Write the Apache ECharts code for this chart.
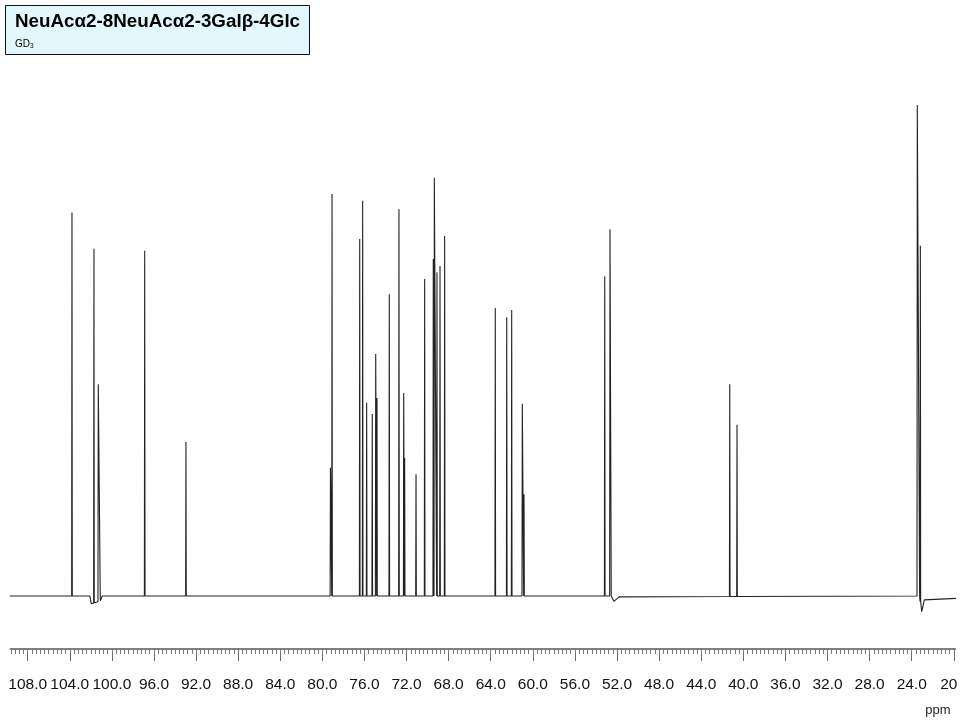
<!DOCTYPE html>
<html>
<head>
<meta charset="utf-8">
<title>GD3 13C NMR</title>
<script src="https://cdn.jsdelivr.net/npm/echarts@6.0.0/dist/echarts.min.js"></script>
<style>
  html, body { margin: 0; padding: 0; background: #fff; }
  #container { width: 960px; height: 720px; }
</style>
</head>
<body>
<div id="container"></div>
<script>
// peaks (ppm, relative height; tallest = 100)
var peakPpm = [103.79, 101.70, 101.29, 96.88, 92.96,
  79.23, 79.08, 76.45, 76.17, 75.79, 75.26, 74.93, 74.81, 73.64,
  72.72, 72.27, 72.18, 71.10, 70.28, 69.46, 69.36, 69.11, 68.82, 68.38,
  63.57, 62.48, 62.01, 61.00, 60.84,
  53.17, 52.67, 41.29, 40.60, 23.47, 23.18];
var peakHeight = [78.0, 70.6, 42.9, 70.2, 31.1,
  25.8, 81.8, 72.6, 80.4, 39.1, 36.8, 49.1, 40.1, 61.3,
  78.7, 41.1, 27.8, 24.5, 64.4, 68.5, 85.1, 65.8, 67.1, 73.2,
  58.5, 56.6, 58.1, 38.9, 20.4,
  65.0, 74.6, 42.9, 34.6, 100, 71.2];

// baseline level and its dips
var baselinePpm   = [109.7, 102.1, 101.95, 101.1, 100.9, 52.55, 52.3, 51.8, 23.25, 23.05, 22.8, 19.8];
var baselineValue = [-0.4, -0.4, -2.0, -1.4, -0.4, -0.4, -1.5, -0.6, -0.4, -3.6, -1.2, -0.9];

// axis labels
var labelTicks = [108, 104, 100, 96, 92, 88, 84, 80, 76, 72, 68, 64, 60, 56, 52, 48, 44, 40, 36, 32, 28, 24, 20];
var minorTicks = [];
for (var t = 1096; t >= 200; t -= 4) minorTicks.push(t / 10);

// baseline level under a given shift, from the baseline arrays
function baseAt(p) {
  for (var i = 0; i < baselinePpm.length - 1; i++) {
    var a = baselinePpm[i], b = baselinePpm[i + 1];
    if (p <= a && p >= b) {
      var f = (a - p) / (a - b);
      return baselineValue[i] + f * (baselineValue[i + 1] - baselineValue[i]);
    }
  }
  return 0;
}

function buildTrace() {
  var pts = [];
  for (var i = 0; i < baselinePpm.length; i++) pts.push([baselinePpm[i], baselineValue[i]]);
  for (var j = 0; j < peakPpm.length; j++) {
    var b = baseAt(peakPpm[j]);
    pts.push([peakPpm[j] - 0.03, b]);
    pts.push([peakPpm[j], peakHeight[j]]);
    pts.push([peakPpm[j] + 0.03, b]);
  }
  pts.sort(function (a, b) { return a[0] - b[0]; });
  return pts;
}

var myChart = echarts.init(document.getElementById('container'));
var xMin = 19.85, xMax = 109.65;
var labelFont = "'Liberation Sans', Arial, sans-serif";
var option = {
  backgroundColor: '#fff',
  animation: false,
  grid: { left: 10.3, right: 4.6, top: 105, bottom: 71, containLabel: false, outerBoundsMode: 'none' },
  xAxis: [{
    type: 'value', inverse: true, min: xMin, max: xMax, position: 'bottom',
    axisLine: { show: true, onZero: false, lineStyle: { color: '#555', width: 1.5 } },
    axisTick: { show: true, length: 12, customValues: labelTicks, lineStyle: { color: '#666', width: 1 } },
    axisLabel: {
      customValues: labelTicks, margin: 28, color: '#111', fontSize: 15.5,
      fontFamily: labelFont, hideOverlap: false,
      formatter: function (v) { return v === 20 ? '{r|20}' : v.toFixed(1); },
      rich: { r: { fontSize: 15.5, fontFamily: labelFont, color: '#111', padding: [0, 10, 0, 0] } }
    },
    splitLine: { show: false }
  }, {
    type: 'value', inverse: true, min: xMin, max: xMax, position: 'bottom',
    axisLine: { show: false, onZero: false },
    axisTick: { show: true, length: 5, customValues: minorTicks, lineStyle: { color: '#777', width: 1 } },
    axisLabel: { show: false },
    splitLine: { show: false }
  }],
  yAxis: { type: 'value', min: -11.25, max: 100, show: false, splitLine: { show: false } },
  series: [{
    type: 'line', xAxisIndex: 0, data: buildTrace(), showSymbol: false, silent: true,
    lineStyle: { color: '#222', width: 1.1 }
  }],
  graphic: [
    { type: 'rect', shape: { x: 5.5, y: 5.5, width: 304, height: 49 }, style: { fill: '#e3f8fc', stroke: '#111', lineWidth: 1 } },
    { type: 'text', x: 15, y: 22, style: { text: 'NeuAcα2-8NeuAcα2-3Galβ-4Glc', font: "bold 18.8px 'Liberation Sans', Arial, sans-serif", fill: '#000', verticalAlign: 'middle' } },
    { type: 'text', x: 15, y: 44, style: {
        text: '{a|GD}{b|3}', verticalAlign: 'middle',
        rich: {
          a: { fontSize: 10, fontFamily: labelFont, fill: '#000' },
          b: { fontSize: 6.5, fontFamily: labelFont, fill: '#000', verticalAlign: 'bottom', padding: [4, 0, 0, 0] }
        } } },
    { type: 'text', x: 938, y: 710, style: { text: 'ppm', font: "13px 'Liberation Sans', Arial, sans-serif", fill: '#222', align: 'center', verticalAlign: 'middle' } }
  ]
};
myChart.setOption(option);
</script>
</body>
</html>
